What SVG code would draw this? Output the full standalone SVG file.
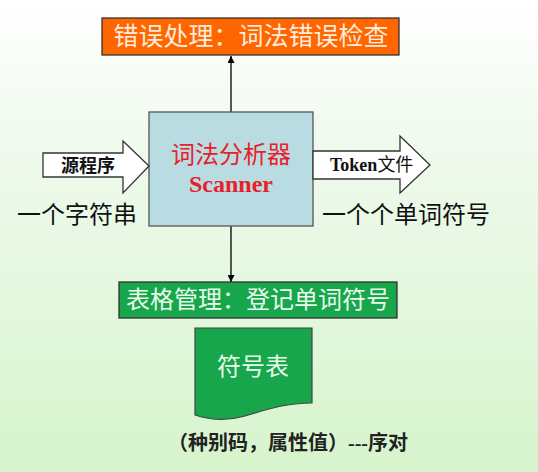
<svg xmlns="http://www.w3.org/2000/svg" width="538" height="472" viewBox="0 0 538 472">
<defs>
<linearGradient id="bg" x1="0" y1="0" x2="0" y2="1">
<stop offset="0" stop-color="#ffffff"/>
<stop offset="0.3" stop-color="#f0faee"/>
<stop offset="1" stop-color="#d6f4cc"/>
</linearGradient>
<marker id="ah" viewBox="0 0 10 10" refX="10" refY="5" markerWidth="7" markerHeight="7" orient="auto" markerUnits="userSpaceOnUse">
<path d="M0,0 L10,5 L0,10 z" fill="#000"/>
</marker>
<style>
.cjk{font-family:"Liberation Serif","Noto Sans CJK SC",serif;}
.box{stroke:#333;stroke-width:1.3;}
.conn{stroke:#000;stroke-width:1.3;fill:none;}
.bigarrow{fill:#fff;stroke:#333;stroke-width:1.3;}
</style>
</defs>
<rect width="538" height="472" fill="url(#bg)"/>
<g id="connectors">
<line class="conn" x1="231" y1="112" x2="231" y2="56" marker-end="url(#ah)"/>
<line class="conn" x1="231" y1="226" x2="231" y2="282" marker-end="url(#ah)"/>
</g>
<g id="error">
<rect class="box" x="102" y="18" width="297" height="37" fill="#ff6600"/>
<text class="cjk" x="251" y="45" font-size="25" fill="#fdebdc" text-anchor="middle">错误处理：词法错误检查</text>
</g>
<g id="scanner">
<rect x="149" y="112" width="164" height="114" fill="#b9dce2" stroke="#555" stroke-width="1.3"/>
<text class="cjk" x="231" y="163" font-size="24" fill="#e8202a" text-anchor="middle">词法分析器</text>
<text x="231" y="192" font-size="24" font-weight="bold" fill="#e8202a" text-anchor="middle" font-family="Liberation Serif, serif">Scanner</text>
</g>
<g id="source">
<path class="bigarrow" d="M43,153 L123,153 L123,141 L149,166 L123,193 L123,177 L43,177 z"/>
<text class="cjk" x="88" y="172" font-size="18" font-weight="bold" fill="#111" text-anchor="middle">源程序</text>
</g>
<g id="token">
<path class="bigarrow" d="M313,151 L400,151 L400,136 L430,165 L400,193 L400,179 L313,179 z"/>
<text class="cjk" x="330" y="171" font-size="18" fill="#111"><tspan font-weight="bold">Token</tspan>文件</text>
</g>
<g id="labels">
<text class="cjk" x="17" y="223" font-size="24" fill="#111">一个字符串</text>
<text class="cjk" x="322" y="223" font-size="24" fill="#111">一个个单词符号</text>
</g>
<g id="table">
<rect class="box" x="119" y="282" width="278" height="36" fill="#17a64c"/>
<text class="cjk" x="258" y="308" font-size="24" fill="#eafbea" text-anchor="middle">表格管理：登记单词符号</text>
</g>
<g id="symtab">
<path d="M195,328 L312,328 L312,403 C285,403 265,410 245,416 C228,421 210,420 195,415 z" fill="#17a64c" stroke="#444" stroke-width="1.2"/>
<text class="cjk" x="253" y="375" font-size="24" fill="#eafbea" text-anchor="middle">符号表</text>
</g>
<g id="note">
<text class="cjk" x="168" y="450" font-size="20" font-weight="bold" fill="#222">（种别码，属性值）---序对</text>
</g>
</svg>
